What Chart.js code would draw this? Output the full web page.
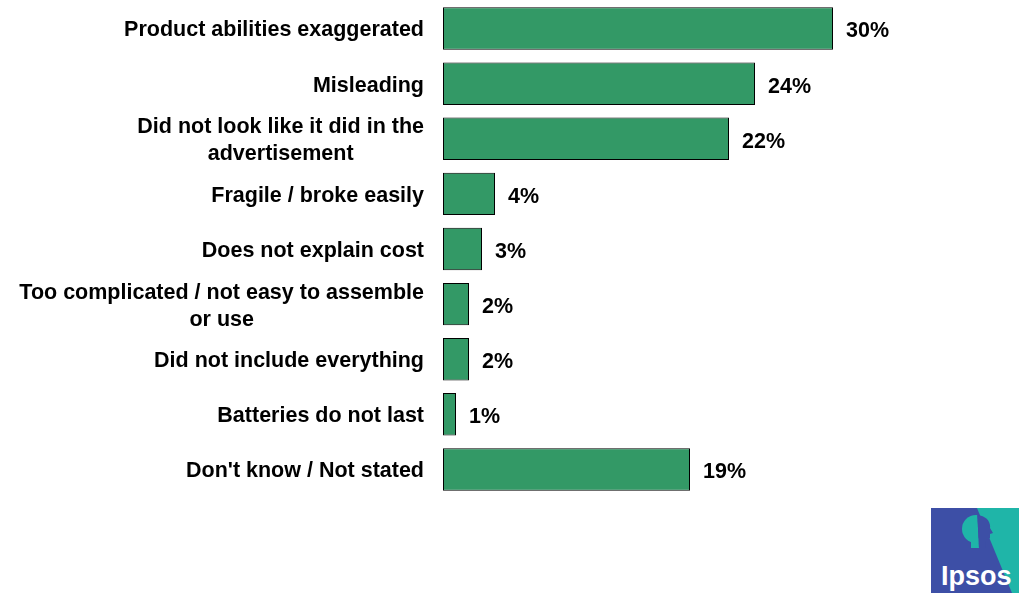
<!DOCTYPE html>
<html>
<head>
<meta charset="utf-8">
<script src="https://cdn.jsdelivr.net/npm/chart.js@4/dist/chart.umd.min.js"></script>
<style>
  body { margin: 0; background: #fff; }
  #wrap { position: relative; width: 1019px; height: 593px; }
  #logo { position: absolute; left: 931px; top: 508px; }
</style>
</head>
<body>
<div id="wrap">
  <canvas id="chart"></canvas>
  <!-- logo, bottom right -->
  <svg id="logo" width="88" height="85" viewBox="0 0 88 85">
    <rect x="0" y="0" width="88" height="85" fill="#3d4fa6"/>
    <polygon points="46,0 88,0 88,85 81,85" fill="#1fb5a8"/>
    <clipPath id="lft"><polygon points="0,0 46,0 48,40 0,40"/></clipPath>
    <clipPath id="rgt"><polygon points="46,0 88,0 88,40 48,40"/></clipPath>
    <g clip-path="url(#lft)">
      <circle cx="45" cy="21" r="14" fill="#1fb5a8"/>
      <rect x="40" y="30" width="8" height="12" fill="#1fb5a8"/>
    </g>
    <g clip-path="url(#rgt)">
      <path d="M45,7 C55,7 60,14 59,20 L62,25 L59,26 L59,30 L55,32 L54,40 L45,40 Z" fill="#3d4fa6"/>
    </g>
    <text x="10" y="77" font-family="Liberation Sans, Arial, sans-serif" font-size="27" font-weight="bold" fill="#fff">Ipsos</text>
  </svg>
</div>
<script>
// categories and shares (%)
const categories = [
  'Product abilities exaggerated',
  'Misleading',
  ['Did not look like it did in the', 'advertisement'],
  'Fragile / broke easily',
  'Does not explain cost',
  ['Too complicated / not easy to assemble', 'or use'],
  'Did not include everything',
  'Batteries do not last',
  "Don't know / Not stated"
];
const shares = [30, 24, 22, 4, 3, 2, 2, 1, 19];
const valueLabels = ['30%', '24%', '22%', '4%', '3%', '2%', '2%', '1%', '19%'];

const fontFamily = '"Liberation Sans", Arial, sans-serif';

// category labels: block right-aligned to the axis, lines centred inside the block
const categoryLabels = {
  id: 'categoryLabels',
  afterDraw(chart) {
    const ctx = chart.ctx;
    const y = chart.scales.y;
    const right = chart.chartArea.left - 19;
    const lineH = 27;
    ctx.save();
    ctx.font = 'bold 21.5px ' + fontFamily;
    ctx.fillStyle = '#000';
    ctx.textBaseline = 'middle';
    ctx.textAlign = 'center';
    categories.forEach((label, i) => {
      const lines = Array.isArray(label) ? label : [label];
      const blockW = Math.max(...lines.map(l => ctx.measureText(l).width));
      const cx = right - blockW / 2;
      const cy = y.getPixelForTick(i) + 2;
      lines.forEach((l, j) => {
        ctx.fillText(l, cx, cy + (j - (lines.length - 1) / 2) * lineH);
      });
    });
    ctx.restore();
  }
};

// value labels at the end of each bar
const valueLabelPlugin = {
  id: 'valueLabels',
  afterDatasetsDraw(chart) {
    const ctx = chart.ctx;
    const meta = chart.getDatasetMeta(0);
    ctx.save();
    ctx.font = 'bold 21.5px ' + fontFamily;
    ctx.fillStyle = '#000';
    ctx.textBaseline = 'middle';
    ctx.textAlign = 'left';
    meta.data.forEach((bar, i) => {
      ctx.fillText(valueLabels[i], bar.x + 13, bar.y + 3);
    });
    ctx.restore();
  }
};

const ctx = document.getElementById('chart').getContext('2d');
const chart = new Chart(ctx, {
  type: 'bar',
  data: {
    labels: categories,
    datasets: [{
      data: shares,
      backgroundColor: '#339966',
      borderColor: '#000',
      borderWidth: 1,
      borderSkipped: false,
      barPercentage: 0.77,
      categoryPercentage: 1
    }]
  },
  options: {
    indexAxis: 'y',
    responsive: true,
    maintainAspectRatio: false,
    animation: false,
    layout: { padding: { top: 1, right: 56, bottom: 96, left: 0 } },
    plugins: {
      legend: { display: false },
      tooltip: { enabled: false }
    },
    scales: {
      x: {
        display: false,
        min: 0,
        max: 40
      },
      y: {
        grid: { display: false },
        border: { display: false },
        ticks: { display: false },
        afterFit(scale) { scale.width = 443; }
      }
    }
  },
  plugins: [categoryLabels, valueLabelPlugin]
});
</script>
</body>
</html>
